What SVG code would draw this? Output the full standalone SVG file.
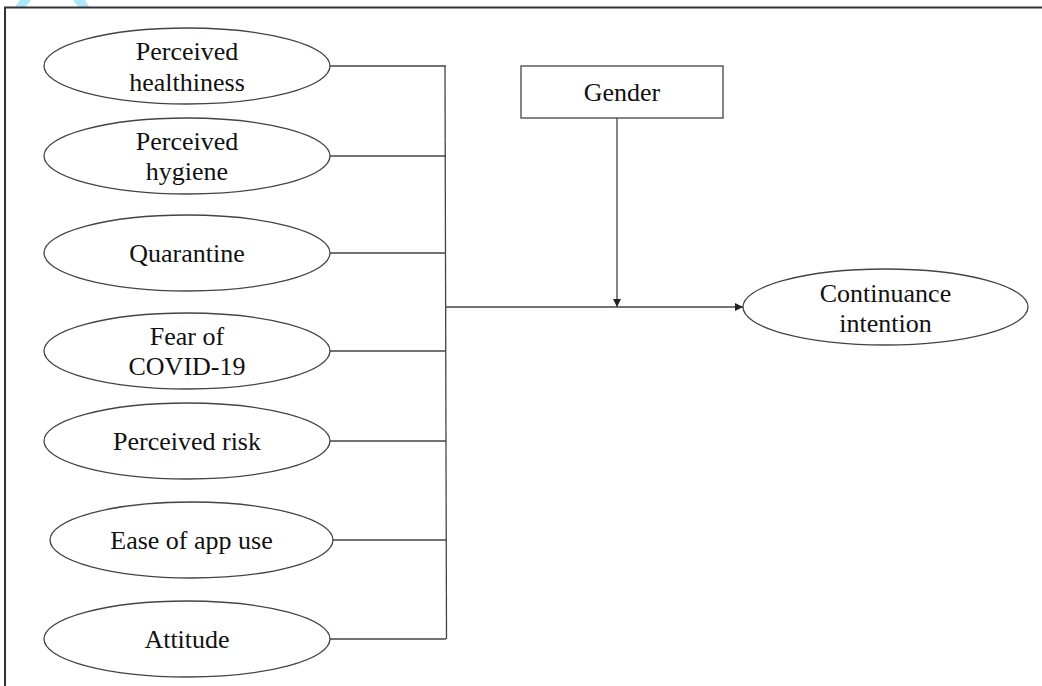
<svg xmlns="http://www.w3.org/2000/svg" width="1042" height="686" viewBox="0 0 1042 686">
<style>
.node ellipse, .node rect { fill: #ffffff; stroke: #444444; stroke-width: 1.3; }
.node text { font-family: "Liberation Serif", "Times New Roman", serif; font-size: 26px; fill: #111111; text-anchor: middle; }
.conn line { stroke: #444444; stroke-width: 1.3; fill: none; }
.frame { stroke: #333333; stroke-width: 2; fill: none; }
.wm { fill: #aee6fa; }
</style>
<defs>
<marker id="arrow" viewBox="0 0 10 10" refX="10" refY="5" markerWidth="8" markerHeight="8" markerUnits="userSpaceOnUse" orient="auto">
<path d="M0,0 L10,5 L0,10 Z" fill="#222222"/>
</marker>
</defs>
<rect width="1042" height="686" fill="#ffffff"/>
<polygon class="wm" points="20,0 31,0 25,8 14,8"/>
<polygon class="wm" points="73,0 85,0 90,8 79,8"/>
<path class="frame" d="M5,686 L5,7.5 L1042,7.5"/>

<g id="connectors" class="conn">
<line x1="330" y1="66" x2="446" y2="66"/>
<line x1="330" y1="156" x2="446" y2="156"/>
<line x1="330" y1="253" x2="446" y2="253"/>
<line x1="330" y1="351" x2="446" y2="351"/>
<line x1="330" y1="441" x2="446" y2="441"/>
<line x1="333" y1="540" x2="446" y2="540"/>
<line x1="330" y1="639" x2="446" y2="639"/>
<line x1="445" y1="66" x2="446.5" y2="639"/>
<line x1="445.5" y1="307" x2="743" y2="307" marker-end="url(#arrow)"/>
<line x1="617" y1="118" x2="617" y2="307" marker-end="url(#arrow)"/>
</g>

<g id="n-healthiness" class="node">
<ellipse cx="187" cy="66" rx="143" ry="38"/>
<text x="187" y="60">Perceived</text>
<text x="187" y="91">healthiness</text>
</g>
<g id="n-hygiene" class="node">
<ellipse cx="187" cy="156" rx="143" ry="38"/>
<text x="187" y="150">Perceived</text>
<text x="187" y="180">hygiene</text>
</g>
<g id="n-quarantine" class="node">
<ellipse cx="187" cy="253" rx="143" ry="38"/>
<text x="187" y="262">Quarantine</text>
</g>
<g id="n-fear" class="node">
<ellipse cx="187" cy="351" rx="143" ry="38"/>
<text x="187" y="345">Fear of</text>
<text x="187" y="375">COVID-19</text>
</g>
<g id="n-risk" class="node">
<ellipse cx="187" cy="441" rx="143" ry="38"/>
<text x="187" y="450">Perceived risk</text>
</g>
<g id="n-ease" class="node">
<ellipse cx="191.5" cy="540" rx="141.5" ry="38"/>
<text x="191.5" y="549">Ease of app use</text>
</g>
<g id="n-attitude" class="node">
<ellipse cx="187" cy="639" rx="143" ry="38"/>
<text x="187" y="648">Attitude</text>
</g>
<g id="n-gender" class="node">
<rect x="521" y="66" width="202" height="52"/>
<text x="622" y="101">Gender</text>
</g>
<g id="n-continuance" class="node">
<ellipse cx="885.5" cy="307" rx="142.5" ry="38"/>
<text x="885.5" y="302">Continuance</text>
<text x="885.5" y="332">intention</text>
</g>
</svg>
